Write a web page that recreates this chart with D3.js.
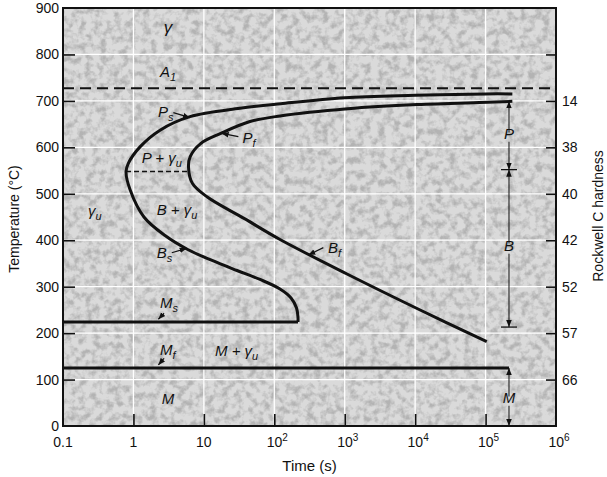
<!DOCTYPE html>
<html><head><meta charset="utf-8">
<script src="https://cdn.jsdelivr.net/npm/d3@7"></script>
<style>
body{margin:0;background:#fff;}
svg{display:block;}
text{font-family:"Liberation Sans",Arial,sans-serif;fill:#111;}
.lab{font-style:italic;font-size:15px;}
</style>
</head><body>
<svg id="c" width="607" height="477"></svg>
<script>
// ---------- data ----------
const timeTicks = [0.1, 1, 10, 100, 1e3, 1e4, 1e5, 1e6];
const timeTickLabels = [["0.1",""],["1",""],["10",""],["10","2"],["10","3"],["10","4"],["10","5"],["10","6"]];
const tempTicks = [0, 100, 200, 300, 400, 500, 600, 700, 800, 900];
const hardnessTemps = [700, 600, 500, 400, 300, 200, 100];
const hardnessLabels = ["14", "38", "40", "42", "52", "57", "66"];
// transformation start curve (Ps / Bs): [time s, temperature °C]
const startCurve = [[2.4e5,715],[1e5,715],[1e4,712],[1e3,707],[124,694],[32.6,684],[6.36,666],[2.39,637],
  [1.24,601],[0.846,565.5],[0.785,547.5],[0.9,508],[1.41,450],[2.81,410],[5.9,380],[13.1,356.4],[29.6,334.8],
  [62.8,315.5],[120.6,295],[173,275.6],[207,254],[217,234],[217,224]];
// transformation finish curve (Pf / Bf)
const finishCurve = [[2.4e5,699],[1.07e5,697],[1.07e4,692],[1100,683],[120.6,667.5],[45.2,655.5],[17.4,630],
  [9,608],[6.4,580],[6.05,558],[6.9,522],[11.2,493],[37.2,447],[120.6,401.6],[1078,327.3],[1.064e4,253],[1.04e5,181.5]];
const A1Temp = 727, MsTemp = 224, MfTemp = 125;
const MsEndTime = 217, MfEndTime = 2.15e5;
const noseLine = [[0.785,548],[6.05,548]];
// right-side product ranges
const rangeTime = 2.15e5;
const rangeTop = 699, rangePB = 552, rangeBBottom = 213;
// labels: [time, temp, main, subscript]
const labels = [
  [3.1, 846, "γ", ""],
  [2.39, 752, "A", "1"],
  [2.24, 665, "P", "s"],
  [35.4, 609, "P", "f"],
  [1.31, 566, "P + γ", "u"],
  [2.14, 454, "B + γ", "u"],
  [0.226, 452, "γ", "u"],
  [2.14, 362, "B", "s"],
  [580, 372.5, "B", "f"],
  [2.39, 254, "M", "s"],
  [2.39, 153, "M", "f"],
  [14.4, 151, "M + γ", "u"],
  [2.52, 46.7, "M", ""]
];
const pointerArrows = [
  [[3.69,674.6],[6.36,664]],
  [[30.9,623],[17.9,630]],
  [[3.5,373],[5.7,382.6]],
  [[497,384],[304,368]],
  [[2.72,242.7],[2.26,229.8]],
  [[2.72,145.8],[2.26,131.4]]
];
const rangeLabels = [["P",618],["B",377],["M",49.5]];

// ---------- scales ----------
const svg = d3.select("#c");
const x = d3.scaleLog().domain([0.1, 1e6]).range([63, 556]);
const y = d3.scaleLinear().domain([0, 900]).range([426, 8]);
const X0 = x.range()[0], X1 = x.range()[1], Y0 = y.range()[0], Y1 = y.range()[1];

const defs = svg.append("defs");
const f = defs.append("filter").attr("id","tex").attr("x",0).attr("y",0).attr("width",1).attr("height",1);
f.append("feTurbulence").attr("type","fractalNoise").attr("baseFrequency","0.14").attr("numOctaves",3).attr("seed",5).attr("result","n");
f.append("feColorMatrix").attr("in","n").attr("type","matrix")
  .attr("values","0 0 0 0 0.45  0 0 0 0 0.45  0 0 0 0 0.45  3 0 0 0 -1.25");
defs.append("marker").attr("id","ah").attr("viewBox","0 0 10 10").attr("refX",10).attr("refY",5)
  .attr("markerWidth",7).attr("markerHeight",7).attr("markerUnits","userSpaceOnUse").attr("orient","auto")
  .append("path").attr("d","M0,1 L10,5 L0,9 Z").attr("fill","#111");

// background
svg.append("rect").attr("x",X0).attr("y",Y1).attr("width",X1-X0).attr("height",Y0-Y1).attr("fill","#dadada");
svg.append("rect").attr("x",X0).attr("y",Y1).attr("width",X1-X0).attr("height",Y0-Y1).attr("filter","url(#tex)");

// grid
const g = svg.append("g");
g.selectAll(".vg").data(timeTicks.slice(1,-1)).join("line")
  .attr("x1",d=>x(d)).attr("x2",d=>x(d)).attr("y1",Y0).attr("y2",Y1)
  .attr("stroke","#fff").attr("stroke-width",1.3);
g.selectAll(".hg").data(tempTicks.slice(1,-1)).join("line")
  .attr("y1",d=>y(d)).attr("y2",d=>y(d)).attr("x1",X0).attr("x2",X1)
  .attr("stroke","#fff").attr("stroke-width",1.3);

// axes (inward ticks)
const axL = d3.axisLeft(y).tickValues(tempTicks).tickSize(-12).tickFormat(d3.format("d"));
const gl = svg.append("g").attr("transform",`translate(${X0},0)`).call(axL);
gl.select(".domain").remove();
gl.selectAll(".tick line").filter(d=>d===0||d===900).remove();
gl.selectAll("text").attr("font-size",14).attr("x",-4).attr("text-anchor","end");

const axR = d3.axisRight(y).tickValues(tempTicks.filter(d=>d>0&&d<900)).tickSize(-10)
  .tickFormat(d=>{const i=hardnessTemps.indexOf(d);return i<0?"":hardnessLabels[i];});
const gr = svg.append("g").attr("transform",`translate(${X1},0)`).call(axR);
gr.select(".domain").remove();
gr.selectAll("text").attr("font-size",14).attr("x",6).attr("text-anchor","start");

const axB = d3.axisBottom(x).tickValues(timeTicks).tickSize(-12).tickFormat("");
const gb = svg.append("g").attr("transform",`translate(0,${Y0})`).call(axB);
gb.select(".domain").remove();
gb.selectAll(".tick line").filter(d=>d===0.1||d===1e6).remove();
svg.selectAll(".tick line").attr("stroke","#111").attr("stroke-width",1.6);

const xl = svg.append("g").selectAll("text").data(timeTicks).join("text")
  .attr("x",(d,i)=>x(d) + (timeTickLabels[i][1] ? 3 : 0)).attr("y",Y0+21)
  .attr("text-anchor","middle").attr("font-size",14);
xl.append("tspan").text((d,i)=>timeTickLabels[i][0]);
xl.append("tspan").attr("font-size",10).attr("dy",-6).text((d,i)=>timeTickLabels[i][1]);

// frame
svg.append("rect").attr("x",X0).attr("y",Y1).attr("width",X1-X0).attr("height",Y0-Y1)
  .attr("fill","none").attr("stroke","#111").attr("stroke-width",2);

// axis titles
svg.append("text").attr("x",(X0+X1)/2).attr("y",471).attr("text-anchor","middle").attr("font-size",15).text("Time (s)");
svg.append("text").attr("transform","translate(19,219) rotate(-90)").attr("text-anchor","middle").attr("font-size",14).text("Temperature (°C)");
svg.append("text").attr("transform","translate(603,216) rotate(-90)").attr("text-anchor","middle").attr("font-size",14).text("Rockwell C hardness");

// A1 dashed
svg.append("line").attr("x1",X0).attr("x2",X1).attr("y1",y(A1Temp)).attr("y2",y(A1Temp))
  .attr("stroke","#111").attr("stroke-width",2).attr("stroke-dasharray","11,6");
// nose dashed
svg.append("line").attr("x1",x(noseLine[0][0])).attr("x2",x(noseLine[1][0])).attr("y1",y(noseLine[0][1])).attr("y2",y(noseLine[1][1]))
  .attr("stroke","#111").attr("stroke-width",1.6).attr("stroke-dasharray","5,3");

// curves
const line = d3.line().x(d=>x(d[0])).y(d=>y(d[1])).curve(d3.curveCatmullRom.alpha(0.5));
svg.append("path").datum(startCurve).attr("d",line).attr("fill","none").attr("stroke","#111").attr("stroke-width",3);
svg.append("path").datum(finishCurve).attr("d",line).attr("fill","none").attr("stroke","#111").attr("stroke-width",3);
svg.append("line").attr("x1",X0).attr("x2",x(MsEndTime)).attr("y1",y(MsTemp)).attr("y2",y(MsTemp)).attr("stroke","#111").attr("stroke-width",3);
svg.append("line").attr("x1",X0).attr("x2",x(MfEndTime)).attr("y1",y(MfTemp)).attr("y2",y(MfTemp)).attr("stroke","#111").attr("stroke-width",3);

// labels
const lt = svg.append("g").selectAll("text").data(labels).join("text").attr("class","lab")
  .attr("x",d=>x(d[0])).attr("y",d=>y(d[1])).attr("text-anchor",d=>d[2]==="γ"&&!d[3]?"middle":"start");
lt.append("tspan").attr("font-size",d=>d[2]==="γ"&&!d[3]?17:15).text(d=>d[2]);
lt.append("tspan").attr("font-size",11).attr("dy",4).text(d=>d[3]);

// pointer arrows
svg.append("g").selectAll("line").data(pointerArrows).join("line")
  .attr("x1",d=>x(d[0][0])).attr("y1",d=>y(d[0][1])).attr("x2",d=>x(d[1][0])).attr("y2",d=>y(d[1][1]))
  .attr("stroke","#111").attr("stroke-width",1.2).attr("marker-end","url(#ah)");

// right range arrows
const rx = x(rangeTime);
function seg(t1,t2){
  svg.append("line").attr("x1",rx).attr("x2",rx).attr("y1",y(t1)).attr("y2",y(t2))
    .attr("stroke","#111").attr("stroke-width",1).attr("marker-end","url(#ah)");
}
const rl = rangeLabels;
seg(rl[0][1]+14, rangeTop); seg(rl[0][1]-6, rangePB);
seg(rl[1][1]+16, rangePB); seg(rl[1][1]-6, rangeBBottom);
seg(rl[2][1]+14, MfTemp); seg(rl[2][1]-6, 0);
[rangePB, rangeBBottom].forEach(t=>svg.append("line").attr("x1",rx-8).attr("x2",rx+8).attr("y1",y(t)).attr("y2",y(t)).attr("stroke","#111").attr("stroke-width",1.3));
svg.append("g").selectAll("text").data(rangeLabels).join("text").attr("class","lab")
  .attr("x",rx).attr("y",d=>y(d[1])).attr("text-anchor","middle").text(d=>d[0]);
</script>
</body></html>
